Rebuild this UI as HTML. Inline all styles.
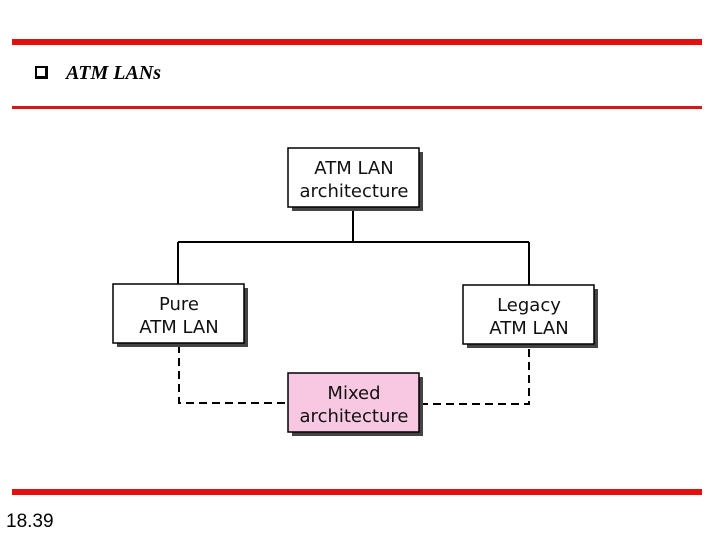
<html><body style="margin:0;width:720px;height:540px;background:#fff;position:relative;overflow:hidden;font-family:'DejaVu Sans',sans-serif">
<div style="position:absolute;left:12px;top:39px;width:690px;height:6px;background:#e41010"></div>
<div style="position:absolute;left:12px;top:106px;width:690px;height:3px;background:#d41818"></div>
<div style="position:absolute;left:12px;top:489px;width:690px;height:6px;background:#e41010"></div>
<div style="position:absolute;left:35px;top:66px;width:13px;height:13px;border:2px solid #000;border-right-width:3px;border-bottom-width:3px;box-sizing:border-box"></div>
<div style="position:absolute;left:66px;top:62px;font:italic bold 20px 'Liberation Serif',serif">ATM LANs</div>
<div style="position:absolute;left:6px;top:511px;font:19px 'Liberation Sans',sans-serif">18.39</div>
<svg width="720" height="540" style="position:absolute;left:0;top:0">
<g stroke="#000" stroke-width="2" fill="none">
<path d="M353 208V242M178 242H529M178 242V284M529 242V285"/>
<path d="M179 345V403H288M420 404H529V346" stroke-dasharray="8,5"/>
</g>
<g fill="#444"><rect x="292" y="152" width="131" height="59"/><rect x="117" y="288" width="131" height="59"/><rect x="467" y="289" width="131" height="59"/><rect x="292" y="377" width="131" height="59"/></g>
<g stroke="#000" stroke-width="1.5"><rect x="288" y="148" width="131" height="59" fill="#fff"/><rect x="113" y="284" width="131" height="59" fill="#fff"/><rect x="463" y="285" width="131" height="59" fill="#fff"/><rect x="288" y="373" width="131" height="59" fill="#f8c8e2"/></g>
<g font-family="DejaVu Sans,sans-serif" font-size="18" text-anchor="middle" fill="#111">
<text x="354" y="174">ATM LAN</text><text x="354" y="197">architecture</text>
<text x="179" y="310">Pure</text><text x="179" y="333">ATM LAN</text>
<text x="529" y="311">Legacy</text><text x="529" y="334">ATM LAN</text>
<text x="354" y="399">Mixed</text><text x="354" y="422">architecture</text>
</g></svg>
</body></html>
